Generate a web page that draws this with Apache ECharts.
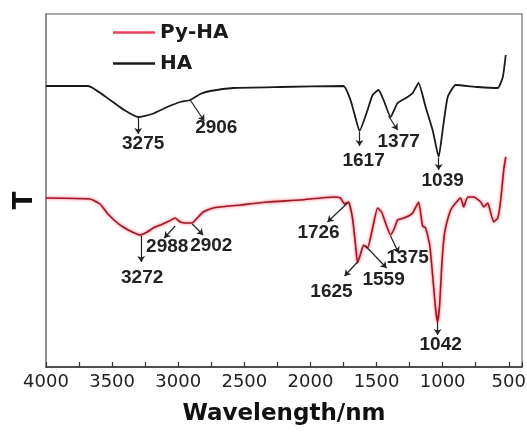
<!DOCTYPE html>
<html>
<head>
<meta charset="utf-8">
<script src="https://cdn.jsdelivr.net/npm/echarts@6/dist/echarts.min.js"></script>
<style>
    html, body { margin: 0; padding: 0; background: #fff; }
    #chart { width: 527px; height: 435px; }
</style>
</head>
<body>
<div id="chart"></div>
<script>
// FTIR spectra, T in arbitrary units
const haWave = [4000, 3682, 3515, 3409, 3303, 3197, 3083, 2985, 2909, 2833, 2758, 2583, 2227, 1750,
    1697, 1659, 1629, 1568, 1530, 1485, 1447, 1394, 1341, 1265, 1227, 1182, 1129, 1076, 1030,
    1000, 962, 902, 735, 583, 545, 523];
const haT = [281, 281, 267, 257, 250, 253, 260, 265, 267, 273, 276, 279, 280, 281,
    267, 249, 236, 257, 272, 277, 267, 250, 264, 270, 274, 284, 260, 237, 210,
    237, 270, 282, 280, 279, 290, 312];

const pyWave = [4000, 3667, 3591, 3538, 3477, 3417, 3348, 3288, 3235, 3189, 3136, 3083, 3023, 2985,
    2939, 2894, 2856, 2811, 2735, 2530, 2326, 2076, 1826, 1773, 1742, 1712, 1682, 1659, 1644,
    1621, 1598, 1568, 1530, 1492, 1462, 1432, 1394, 1364, 1341, 1295, 1258, 1227, 1182, 1152,
    1129, 1098, 1076, 1053, 1038, 1023, 1008, 992, 977, 939, 902, 864, 841, 811, 765, 712,
    689, 659, 636, 614, 583, 561, 538, 523];
const pyT = [169, 168, 163, 154, 146, 140, 135, 132, 135, 139, 142, 145, 149, 145,
    144, 144, 149, 155, 159, 162, 165, 167, 170, 169, 163, 165, 149, 122, 104,
    113, 122, 119, 139, 159, 155, 144, 132, 139, 147, 149, 151, 154, 165, 141,
    139, 122, 92, 57, 45, 62, 99, 127, 140, 157, 164, 169, 160, 170, 170, 165,
    160, 164, 154, 145, 149, 167, 197, 210];

const tickLabels = [4000, 3500, 3000, 2500, 2000, 1500, 1000, 500];

// peak annotations: text, arrow start [w, T], arrow end [w, T], label centre [w, T]
const haPeaks = [
    ['3275', [3303, 249], [3303, 233], [3265, 223]],
    ['2906', [2909, 267], [2803, 246], [2712, 239]],
    ['1617', [1629, 235], [1629, 221], [1598, 206]],
    ['1377', [1409, 251], [1341, 237], [1333, 225]],
    ['1039', [1030, 209], [1030, 197], [1000, 186]]
];
const pyPeaks = [
    ['3272', [3280, 131], [3280, 105], [3273, 89]],
    ['2988', [3023, 141], [3106, 129], [3083, 120]],
    ['2902', [2894, 143], [2811, 132], [2750, 121]],
    ['1726', [1720, 164], [1871, 145], [1939, 134]],
    ['1625', [1644, 105], [1742, 91], [1841, 75]],
    ['1559', [1583, 121], [1424, 99], [1447, 87]],
    ['1375', [1394, 131], [1333, 114], [1265, 109]],
    ['1042', [1038, 45], [1038, 32], [1015, 22]]
];

function pairUp(xs, ys) {
    return xs.map(function (x, i) { return [x, ys[i]]; });
}

function peakArrows(peaks) {
    return peaks.map(function (p) {
        return [{ coord: p[1] }, { coord: p[2] }];
    });
}

function peakLabels(peaks) {
    return peaks.map(function (p) {
        return { name: p[0], coord: p[3] };
    });
}

function peakSeriesParts(peaks) {
    return {
        markLine: {
            silent: true,
            symbol: ['none', 'arrow'],
            symbolSize: 6,
            label: { show: false },
            lineStyle: { color: '#222', width: 1.2, type: 'solid' },
            data: peakArrows(peaks)
        },
        markPoint: {
            silent: true,
            symbol: 'circle',
            symbolSize: 1,
            itemStyle: { color: 'rgba(0,0,0,0)' },
            label: {
                show: true,
                position: 'inside',
                formatter: '{b}',
                fontFamily: 'Liberation Sans',
                fontWeight: 'bold',
                fontSize: 19,
                color: '#222'
            },
            data: peakLabels(peaks)
        }
    };
}

const chart = echarts.init(document.getElementById('chart'));

const haParts = peakSeriesParts(haPeaks);
const pyParts = peakSeriesParts(pyPeaks);

const option = {
    animation: false,
    grid: {
        left: 46,
        right: 5,
        top: 14,
        bottom: 68,
        containLabel: false,
        outerBoundsMode: 'none',
        show: true,
        borderColor: '#8a8a8a',
        borderWidth: 1.5
    },
    legend: {
        orient: 'vertical',
        left: 108,
        top: 16,
        icon: 'rect',
        itemWidth: 42,
        itemHeight: 2.5,
        itemGap: 8,
        textStyle: {
            fontFamily: 'DejaVu Sans',
            fontWeight: 'bold',
            fontSize: 20,
            lineHeight: 23,
            color: '#1a1a1a'
        },
        data: [
            { name: 'Py-HA', itemStyle: { color: '#e8405a' } },
            { name: 'HA', itemStyle: { color: '#1a1a1a' } }
        ]
    },
    xAxis: {
        type: 'value',
        inverse: true,
        min: 400,
        max: 4000,
        splitNumber: 7,
        name: 'Wavelength/nm',
        nameLocation: 'middle',
        nameGap: 36,
        nameTextStyle: {
            fontFamily: 'DejaVu Sans',
            fontWeight: 'bold',
            fontSize: 23,
            color: '#111'
        },
        axisLine: { show: true, onZero: false, lineStyle: { color: '#333', width: 1.5 } },
        axisTick: {
            show: true,
            inside: true,
            length: 5,
            lineStyle: { color: '#333', width: 1.2 }
        },
        minorTick: {
            show: true,
            splitNumber: 2,
            length: 5,
            lineStyle: { color: '#333', width: 1.2 }
        },
        axisLabel: {
            showMinLabel: true,
            showMaxLabel: true,
            formatter: function (v) {
                return tickLabels.indexOf(v) >= 0 ? String(v) : '';
            },
            margin: 6,
            fontFamily: 'DejaVu Sans',
            fontSize: 18,
            color: '#222'
        },
        splitLine: { show: false }
    },
    yAxis: {
        type: 'value',
        min: 0,
        max: 353,
        name: 'T',
        nameLocation: 'middle',
        nameRotate: 90,
        nameGap: 8,
        nameTextStyle: {
            fontFamily: 'DejaVu Sans',
            fontWeight: 'bold',
            fontSize: 26,
            color: '#111',
            padding: [0, 20, 0, 0]
        },
        axisLine: { show: true, lineStyle: { color: '#8a8a8a', width: 1.5 } },
        axisTick: { show: false },
        axisLabel: { show: false },
        splitLine: { show: false }
    },
    series: [
        {
            name: 'Py-HA',
            type: 'line',
            symbol: 'none',
            smooth: 0.15,
            data: pairUp(pyWave, pyT),
            lineStyle: {
                color: '#a01828',
                width: 1.6,
                shadowColor: 'rgba(240,50,70,0.9)',
                shadowBlur: 3
            },
            itemStyle: { color: '#e8405a' },
            markLine: pyParts.markLine,
            markPoint: pyParts.markPoint
        },
        {
            name: 'HA',
            type: 'line',
            symbol: 'none',
            smooth: 0.15,
            data: pairUp(haWave, haT),
            lineStyle: { color: '#1a1a1a', width: 1.8 },
            itemStyle: { color: '#1a1a1a' },
            markLine: haParts.markLine,
            markPoint: haParts.markPoint
        }
    ]
};

chart.setOption(option);
</script>
</body>
</html>
